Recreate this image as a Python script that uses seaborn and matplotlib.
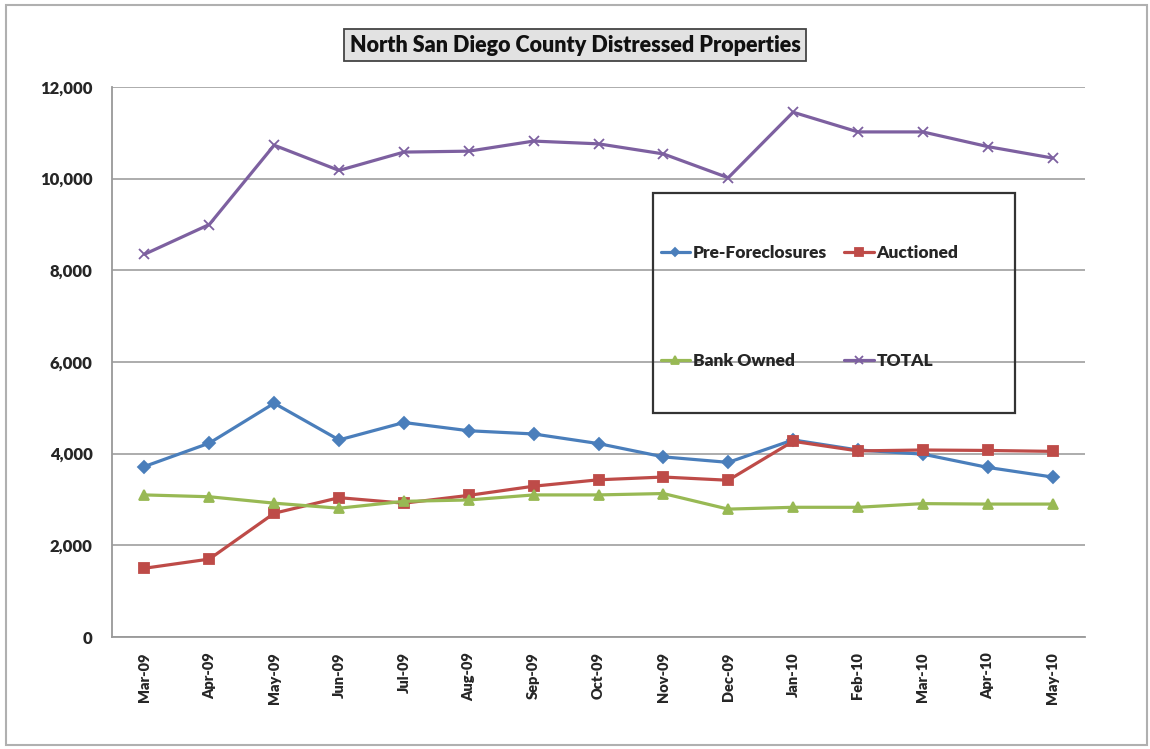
import matplotlib
matplotlib.use("Agg")
import matplotlib.pyplot as plt
from matplotlib.patches import Rectangle
from matplotlib.ticker import FuncFormatter, FixedLocator
import seaborn as sns
import pandas as pd

months = ["Mar-09", "Apr-09", "May-09", "Jun-09", "Jul-09", "Aug-09", "Sep-09",
          "Oct-09", "Nov-09", "Dec-09", "Jan-10", "Feb-10", "Mar-10", "Apr-10", "May-10"]
pre_foreclosures = [3720, 4230, 5100, 4300, 4680, 4500, 4430, 4220, 3930, 3810,
                    4300, 4080, 3990, 3700, 3490]
auctioned = [1500, 1700, 2700, 3040, 2920, 3090, 3290, 3430, 3490, 3420,
             4270, 4060, 4080, 4070, 4050]
bank_owned = [3100, 3060, 2920, 2810, 2960, 2990, 3100, 3100, 3130, 2790,
              2830, 2830, 2910, 2900, 2900]
total = [8350, 9000, 10730, 10180, 10580, 10600, 10820, 10760, 10540, 10020,
         11450, 11020, 11020, 10700, 10450]

series_names = ["Pre-Foreclosures", "Auctioned", "Bank Owned", "TOTAL"]
palette = {"Pre-Foreclosures": "#4A7EBB", "Auctioned": "#BE4B48",
           "Bank Owned": "#98B954", "TOTAL": "#7D60A0"}
markers = {"Pre-Foreclosures": "D", "Auctioned": "s", "Bank Owned": "^", "TOTAL": "x"}
msizes = {"Pre-Foreclosures": 6, "Auctioned": 7, "Bank Owned": 7, "TOTAL": 7}

frames = []
for name, vals in zip(series_names, [pre_foreclosures, auctioned, bank_owned, total]):
    frames.append(pd.DataFrame({"pos": range(len(months)), "value": vals, "series": name}))
df = pd.concat(frames, ignore_index=True)

sns.set_style("white")
FONT = ["Lato", "DejaVu Sans"]
plt.rcParams["font.family"] = FONT
plt.rcParams["font.weight"] = "heavy"

fig = plt.figure(figsize=(11.5, 7.49), dpi=100)
ax = fig.add_axes([112 / 1150, 1 - 637 / 749, (1085 - 112) / 1150, (637 - 87) / 749])

for name in series_names:
    sub = df[df["series"] == name]
    sns.lineplot(data=sub, x="pos", y="value", color=palette[name],
                 marker=markers[name], markersize=msizes[name],
                 markeredgecolor=palette[name], markeredgewidth=1.3,
                 linewidth=2.3, label=name, ax=ax)

ax.set_xlim(-0.5, len(months) - 0.5)
ax.set_ylim(0, 12000)
ax.set_yticks(range(0, 12001, 2000))
ax.yaxis.set_major_formatter(FuncFormatter(lambda v, p: f"{int(v):,}"))
ax.yaxis.grid(True, color="#a6a6a6", linewidth=1.3)
ax.set_axisbelow(True)

ax.set_xticks(range(len(months)))
ax.set_xticklabels(months, rotation=90, fontsize=10.5, fontweight="heavy")
ax.xaxis.set_minor_locator(FixedLocator([i - 0.5 for i in range(len(months) + 1)]))
ax.tick_params(axis="x", which="major", length=0, pad=11)
ax.tick_params(axis="x", which="minor", length=5, color="#999999", direction="out")
ax.tick_params(axis="y", length=5, color="#999999", direction="out", labelsize=12, pad=9)
for lbl in ax.get_yticklabels():
    lbl.set_fontweight("heavy")
ax.set_xlabel("")
ax.set_ylabel("")

for side in ["top", "right"]:
    ax.spines[side].set_visible(False)
for side in ["left", "bottom"]:
    ax.spines[side].set_color("#999999")
    ax.spines[side].set_linewidth(1.3)

# Legend: two columns, rows Pre/Auctioned and Bank/TOTAL, inside a framed box
handles, labels = ax.get_legend_handles_labels()
lookup = dict(zip(labels, handles))
order = ["Pre-Foreclosures", "Bank Owned", "Auctioned", "TOTAL"]
leg = ax.legend([lookup[n] for n in order], order, ncol=2, frameon=False,
                loc="center left", bbox_to_anchor=((652 - 112) / 973, (637 - 307) / 550),
                prop={"family": FONT, "weight": "heavy", "size": 12.5},
                labelspacing=5.3, handlelength=1.7, handletextpad=0.15,
                columnspacing=1.0, borderpad=0.0, markerscale=0.75)
ax.add_patch(Rectangle(((653 - 112) / 973, (637 - 413) / 550),
                       (1015 - 653) / 973, (413 - 193) / 550,
                       transform=ax.transAxes, fill=False, edgecolor="#333333",
                       linewidth=1.6, zorder=5, clip_on=False))

fig.text(575 / 1150, 1 - 45 / 749, "North San Diego County Distressed Properties",
         ha="center", va="center", fontsize=15.5, fontweight="heavy", color="#111111",
         bbox=dict(boxstyle="square,pad=0.25", facecolor="#e2e2e2",
                   edgecolor="#444444", linewidth=1.3))

fig.patches.append(Rectangle((6 / 1150, 1 - 745 / 749), (1147 - 6) / 1150, (745 - 5) / 749,
                             transform=fig.transFigure, fill=False,
                             edgecolor="#b0b0b0", linewidth=1.5))

fig.savefig("out.png", dpi=100)
